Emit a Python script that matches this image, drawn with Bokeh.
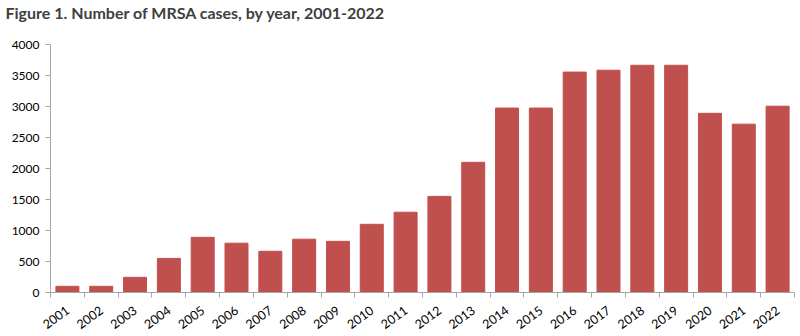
import math
from bokeh.plotting import figure
from bokeh.models import Range1d, FixedTicker, Title
from bokeh.embed import file_html
from bokeh.resources import INLINE

years = [str(y) for y in range(2001, 2023)]
cases = [100, 100, 245, 550, 890, 795, 665, 860, 825, 1100, 1295, 1550,
         2100, 2975, 2975, 3555, 3585, 3665, 3665, 2890, 2715, 3005]
y_ticks = [0, 500, 1000, 1500, 2000, 2500, 3000, 3500, 4000]

xs = list(range(1, len(years) + 1))

p = figure(width=800, height=336, output_backend="svg", toolbar_location=None,
           x_range=Range1d(0.5, len(years) + 0.5), y_range=Range1d(0, 4000),
           min_border_left=50, min_border_right=6, min_border_top=0, min_border_bottom=43)

spacer = Title(text=" ", text_font_size="19px", standoff=0)
p.add_layout(spacer, "above")
main = Title(text="Figure 1. Number of MRSA  cases,  by year, 2001-2022",
             text_font="Lato", text_font_size="16px", text_font_style="bold",
             text_color="#404040", offset=-45, standoff=0)
p.add_layout(main, "above")

p.vbar(x=xs, top=cases, width=0.68, color="#C0504D")

p.xgrid.visible = False
p.ygrid.visible = False
p.outline_line_color = None

ax = p.xaxis[0]
ax.ticker = FixedTicker(ticks=xs, minor_ticks=[x + 0.5 for x in range(0, len(years) + 1)])
ax.major_label_overrides = {x: y for x, y in zip(xs, years)}
ax.major_tick_out = 0
ax.major_tick_in = 0
ax.minor_tick_out = 5
ax.minor_tick_in = 0
ax.minor_tick_line_color = "#A6A6A6"
ax.axis_line_color = "#A6A6A6"
ax.major_label_orientation = math.radians(36)
ax.major_label_text_font = "Lato"
ax.major_label_text_font_size = "12.5px"
ax.major_label_text_color = "#000000"
ax.major_label_standoff = 11

ay = p.yaxis[0]
ay.ticker = FixedTicker(ticks=y_ticks, minor_ticks=[])
ay.major_tick_out = 5
ay.major_tick_in = 0
ay.major_tick_line_color = "#A6A6A6"
ay.axis_line_color = "#A6A6A6"
ay.major_label_text_font = "Lato"
ay.major_label_text_font_size = "12px"
ay.major_label_text_color = "#000000"
ay.major_label_standoff = 6

open("out.html", "w").write(file_html(p, INLINE))
